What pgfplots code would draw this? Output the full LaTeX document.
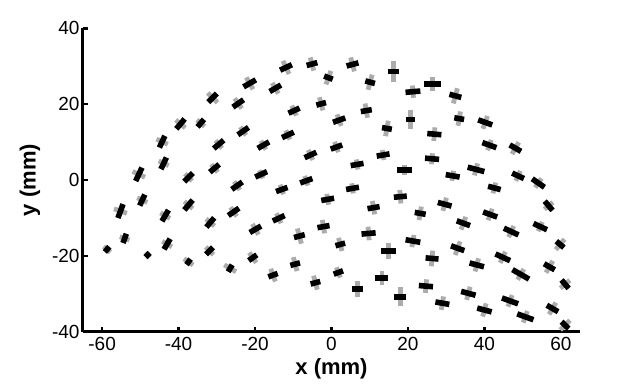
\documentclass[border=0pt]{standalone}
\usepackage{pgfplots}
\pgfplotsset{compat=1.18}
\usepackage{pgfplotstable}
\usepackage{fontspec}
\setmainfont{Liberation Sans}
\definecolor{segray}{RGB}{172,172,172}

% x y (mm), a = angle of black dash (deg), lb / lg = black / grey dash length (mm)
\pgfplotstableread{
x y a lb lg
-11.9 29.7 25 3.4 3.4
-5.1 30.6 15 2.9 3.2
-0.8 27.0 -20 2.4 3.4
-21.4 25.5 30 3.7 3.2
-14.7 24.2 30 3.4 2.9
-31.1 21.7 45 3.2 3.2
-24.4 20.2 35 3.4 2.9
-9.8 18.3 25 3.2 2.6
-2.7 20.1 15 2.6 3.2
2.0 15.8 20 3.4 2.9
-39.5 14.8 50 3.4 2.9
-34.2 15.0 50 2.6 2.4
-44.3 10.1 65 3.4 2.9
-29.5 9.4 40 3.4 2.4
-23.1 12.9 35 3.4 2.4
-17.8 9.2 30 3.4 2.4
-11.4 11.9 25 3.4 2.4
-5.5 6.6 25 3.4 2.6
1.3 8.7 20 3.2 2.6
-50.4 1.5 65 3.9 3.2
-43.9 4.4 65 3.4 2.6
-37.4 0.7 45 3.2 2.4
-30.6 3.1 40 3.2 2.4
-18.4 1.5 25 3.4 2.1
-24.7 -1.5 35 3.4 2.4
-13.0 -2.5 20 3.2 2.4
-6.6 -0.2 20 3.4 2.4
5.5 30.5 15 3.2 3.4
16.2 28.6 0 2.9 5.0
10.1 25.8 -15 2.6 3.7
26.4 25.3 0 4.5 3.4
21.3 23.3 5 3.9 2.9
32.4 22.2 -15 3.2 3.7
9.1 18.3 10 2.9 3.4
20.7 16.0 0 2.4 4.5
33.4 16.2 -10 2.6 3.4
40.2 15.2 -20 3.9 3.2
14.5 13.6 -10 2.6 3.7
26.9 12.1 -5 3.7 3.2
41.3 9.2 -20 3.9 2.6
48.1 8.4 -30 3.4 3.2
13.5 6.6 10 3.4 2.4
26.3 5.6 -5 3.7 2.6
6.7 4.1 10 3.4 2.4
19.1 2.6 0 3.9 2.4
31.7 1.1 -10 3.7 2.4
37.8 2.8 -15 4.5 2.9
48.8 1.1 -25 3.4 2.6
54.1 -0.8 -35 3.9 2.6
42.6 -2.1 -15 3.4 2.6
5.5 -2.2 10 3.4 2.4
-49.5 -5.3 65 3.2 2.6
-55.2 -8.2 70 3.9 3.2
-43.5 -9.4 60 3.4 2.6
-37.4 -6.6 50 3.4 2.6
-31.7 -11.2 50 3.2 2.6
-25.6 -8.4 35 3.4 2.6
-19.9 -13.0 30 3.4 2.9
-13.8 -10.1 25 3.4 2.6
-1.0 -5.1 10 3.4 2.6
-8.4 -14.8 15 2.9 3.7
-2.1 -12.3 10 3.2 3.2
-58.7 -18.3 50 1.8 2.1
-54.1 -15.4 70 2.6 2.4
-48.1 -19.8 45 1.6 1.6
-43.0 -16.9 60 3.2 2.6
-37.4 -21.6 55 1.8 2.6
-31.9 -18.7 45 2.6 2.6
-26.5 -23.3 60 2.1 3.2
-20.6 -20.5 35 2.6 2.9
-15.3 -25.1 20 2.6 3.2
-9.5 -22.2 15 2.6 3.4
-4.2 -27.1 15 2.6 3.4
2.3 -17.0 15 2.6 3.2
1.8 -24.4 20 2.6 2.6
18.0 -4.4 5 3.4 3.2
11.0 -7.3 10 3.2 3.2
23.2 -8.8 -10 2.9 3.2
29.6 -6.4 -15 3.7 3.2
56.8 -6.8 -50 3.2 2.6
41.5 -9.1 -20 3.9 2.9
34.5 -11.4 -20 3.7 3.2
47.0 -13.6 -25 4.2 2.9
54.6 -12.3 -25 3.9 2.4
9.7 -14.1 5 3.7 3.2
14.9 -18.7 0 3.7 3.7
21.3 -16.1 -10 3.9 2.9
26.3 -20.7 -5 3.4 3.7
33.0 -18.0 -20 3.7 3.4
38.0 -22.4 -15 3.9 3.2
44.8 -20.4 -25 4.2 2.9
49.5 -24.9 -30 5.0 2.9
57.0 -22.9 -30 3.2 3.2
59.8 -17.0 -40 2.6 3.2
6.9 -28.8 0 2.9 3.9
13.2 -25.9 0 3.4 3.4
18.0 -30.8 0 3.2 4.5
24.7 -28.0 -5 3.7 3.2
29.0 -32.5 -10 3.7 3.2
35.8 -29.9 -15 3.9 3.2
40.0 -34.3 -15 3.9 3.2
46.7 -31.9 -20 4.5 2.9
50.7 -36.1 -20 4.5 2.9
57.8 -33.9 -30 3.4 3.2
61.1 -27.5 -50 2.9 2.9
61.1 -38.3 -45 2.6 3.2
}\dashdata

\begin{document}
\begin{tikzpicture}
\path[use as bounding box] (-83pt,-59.4pt) rectangle (557pt,331.6pt);
\begin{axis}[
    at={(0,0)}, anchor=south west,
    scale only axis,
    width=497pt, height=303.2pt,
    xmin=-65, xmax=65, ymin=-40, ymax=40,
    axis lines*=left,
    axis line style={line width=3pt},
    tick align=inside,
    major tick length=5pt,
    every tick/.style={black, line width=2.5pt},
    xtick={-60,-40,...,60},
    ytick={-40,-20,...,40},
    ticklabel style={font=\fontsize{19}{21}\selectfont},
    xticklabel style={yshift=-2pt},
    /pgf/number format/assume math mode=true,
    xlabel={x (mm)}, ylabel={y (mm)},
    every axis label/.style={font=\fontsize{22}{24}\selectfont\bfseries},
    xlabel style={at={(axis description cs:0.5,-0.1234)}, anchor=center},
    ylabel style={at={(axis description cs:-0.1066,0.5)}, anchor=center},
    clip=false,
]
% grey dashes, perpendicular to the black ones
\addplot[segray, line width=4.8pt,
    quiver={u=1.12*\thisrow{lg}*cos(\thisrow{a}+90), v=1.12*\thisrow{lg}*sin(\thisrow{a}+90)}]
    table[x expr=\thisrow{x}-0.56*\thisrow{lg}*cos(\thisrow{a}+90),
          y expr=\thisrow{y}-0.56*\thisrow{lg}*sin(\thisrow{a}+90)] {\dashdata};
% black dashes
\addplot[black, line width=5.6pt,
    quiver={u=\thisrow{lb}*cos(\thisrow{a}), v=\thisrow{lb}*sin(\thisrow{a})}]
    table[x expr=\thisrow{x}-0.5*\thisrow{lb}*cos(\thisrow{a}),
          y expr=\thisrow{y}-0.5*\thisrow{lb}*sin(\thisrow{a})] {\dashdata};
\end{axis}
\end{tikzpicture}
\end{document}
